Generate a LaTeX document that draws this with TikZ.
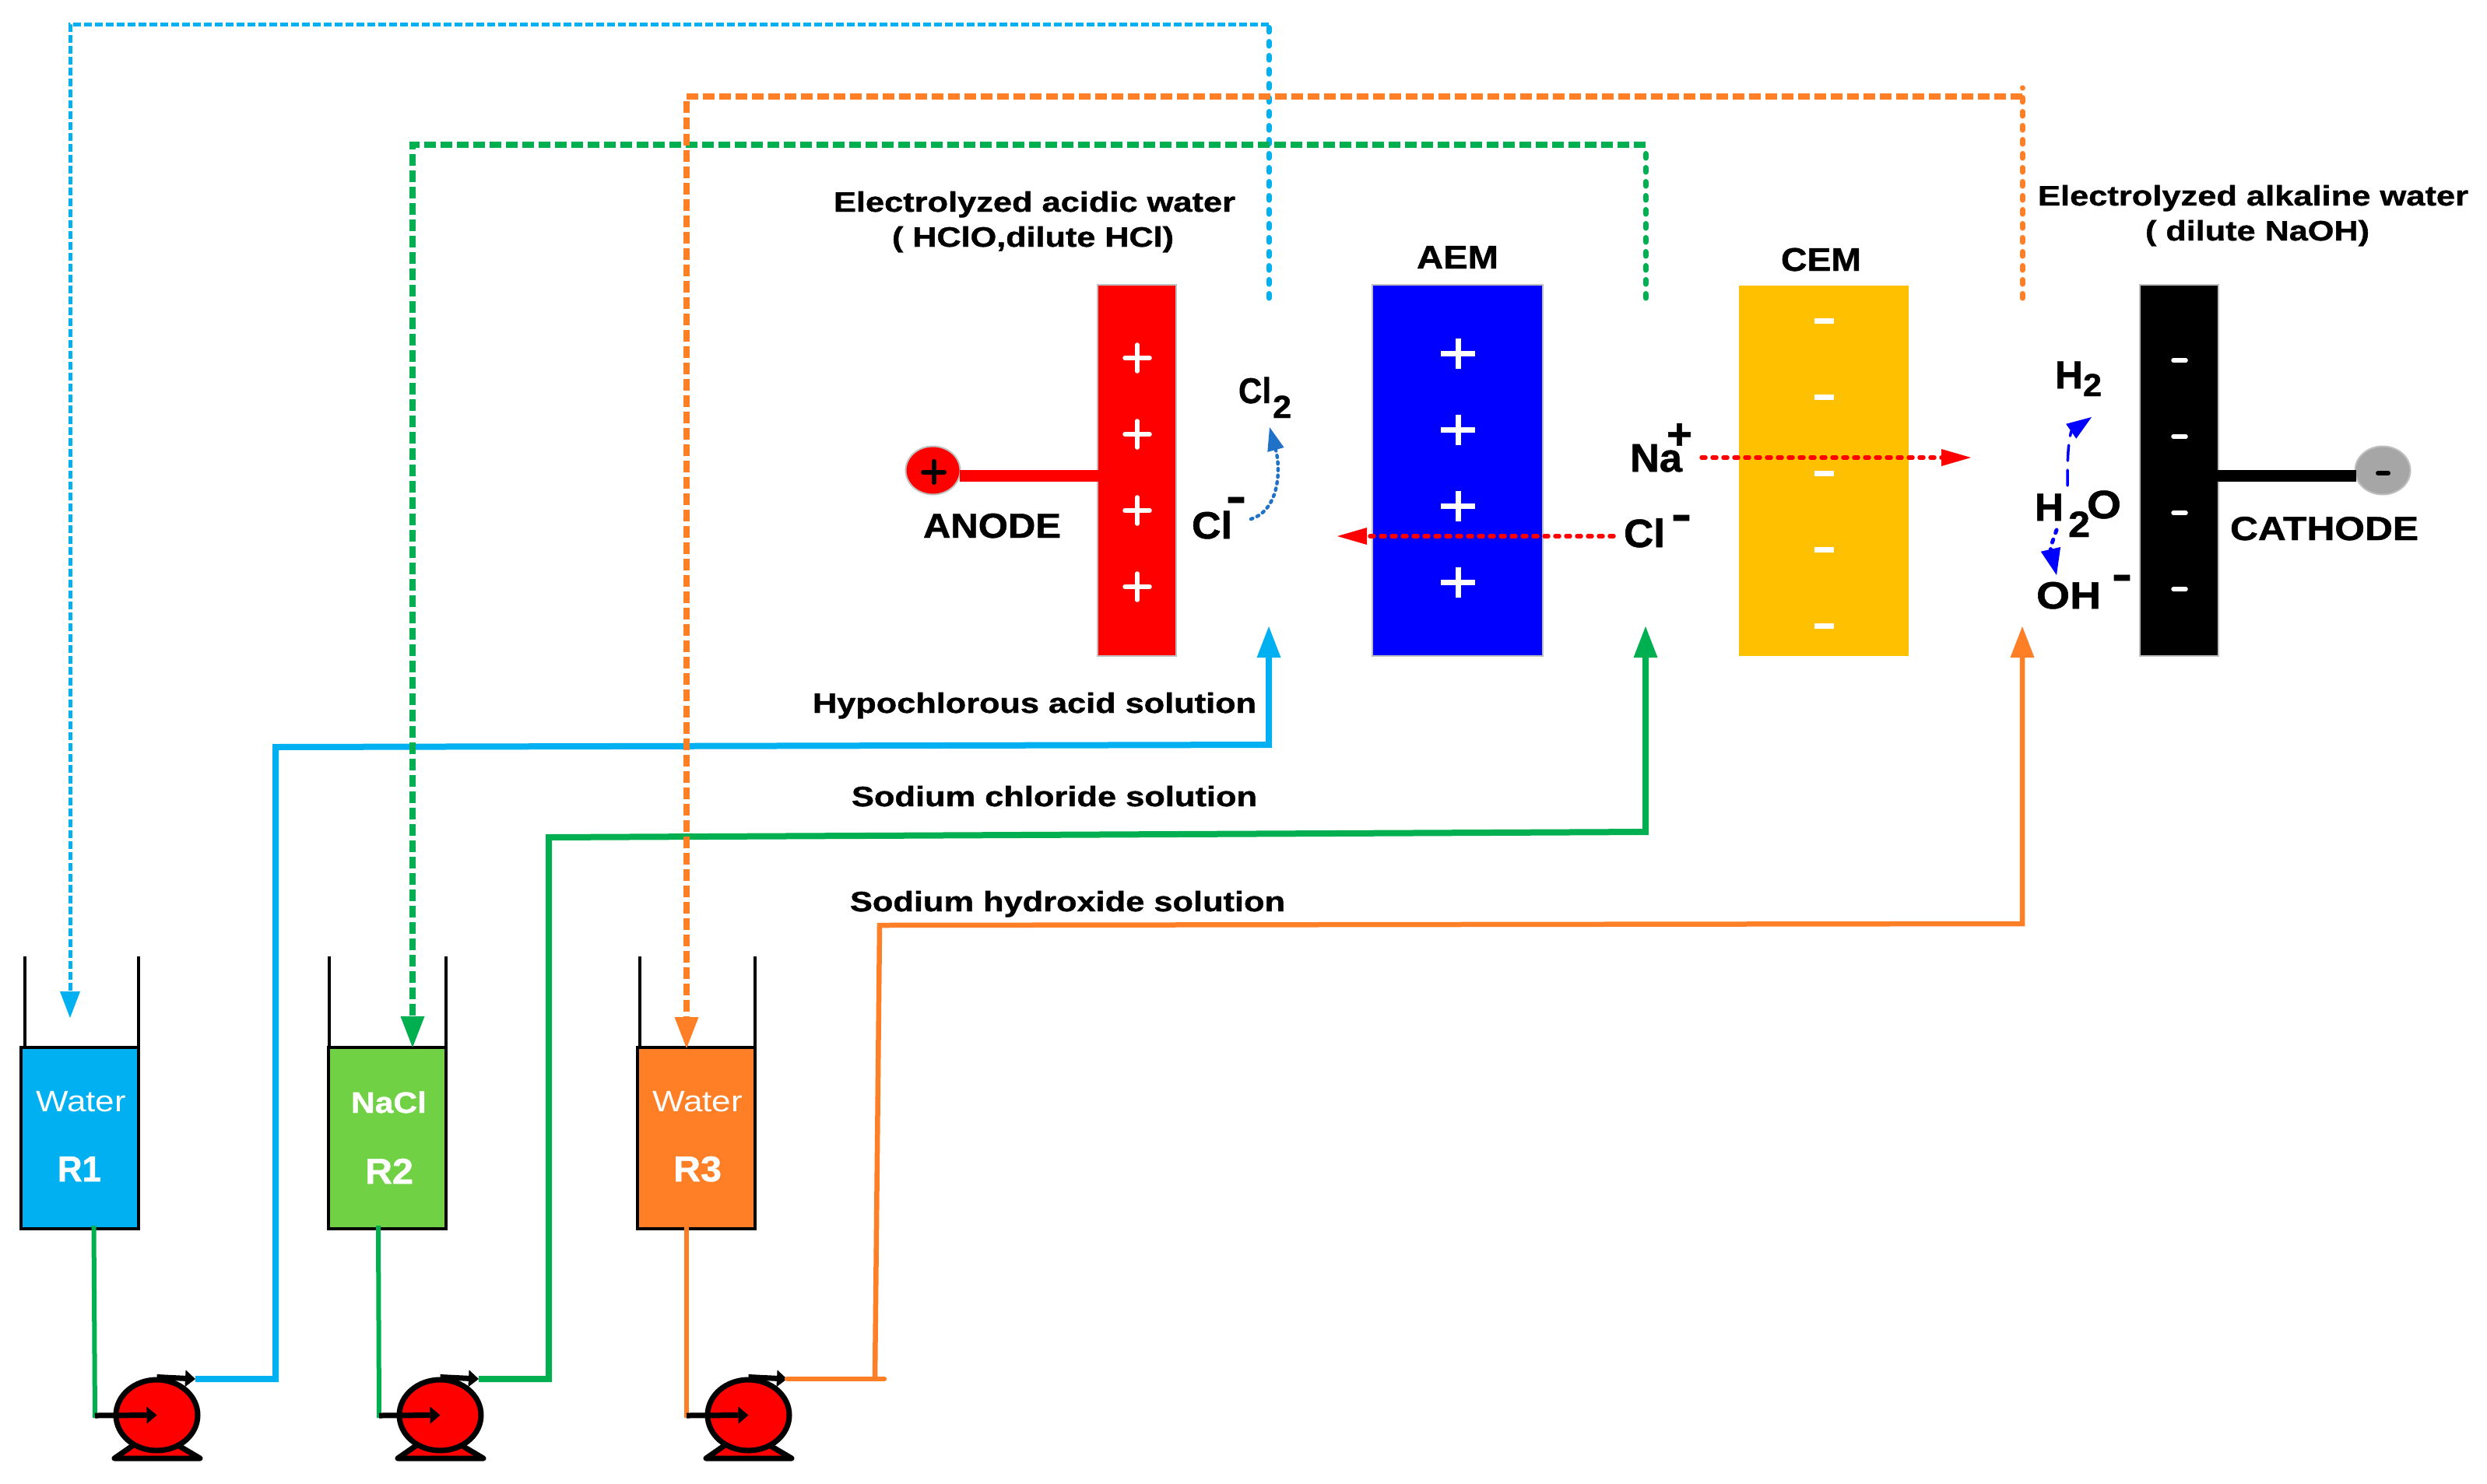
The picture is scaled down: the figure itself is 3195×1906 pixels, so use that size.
\documentclass[tikz,border=0pt]{standalone}
\usepackage{fontspec}
\usepackage{graphicx}
\setmainfont{Liberation Sans}[BoldFeatures={FakeBold=1}]
\usetikzlibrary{arrows.meta,shapes.geometric}
\newlength\px \setlength\px{0.25mm}
\definecolor{cblue}{HTML}{00B0F0}
\definecolor{cgreen}{HTML}{00B050}
\definecolor{clime}{HTML}{6FD143}
\definecolor{corange}{HTML}{FF7F27}
\definecolor{cgold}{HTML}{FFC000}
\definecolor{cedge}{HTML}{BFBFBF}
\definecolor{cgrey}{HTML}{A6A6A6}
\definecolor{carc}{HTML}{2072C8}
\newsavebox\labbox
% [colour]{name}{x}{baseline y}{width px}{size px}{text}
\newcommand\lab[7][black]{%
  \node[inner sep=0,outer sep=0,anchor=base west,text=#1] (#2) at (#3,#4) {%
    \pgfmathsetmacro\fs{#6*0.7113}%
    \sbox\labbox{\fontsize{\fs}{\fs}\selectfont #7}%
    \pgfmathsetmacro\xs{#5*0.7113/\the\wd\labbox}%
    \scalebox{\xs}[1]{\usebox\labbox}};%
}
\tikzset{
  electrode/.style={draw=cedge,line width=2\px},
  tank/.style={draw=black,line width=4\px,rectangle,inner sep=0,minimum width=151\px,minimum height=233\px},
  wall/.style={draw=black,line width=3.5\px},
  sign/.style={line width=5.5\px,line cap=round,white},
  signsq/.style={line width=7\px,white},
  flow/.style={line width=8\px,line join=miter},
  flowthin/.style={line width=6.5\px,line join=miter},
  riser/.style={line width=7\px,line cap=round,dash pattern=on 5.5\px off 12.5\px},
  retthick/.style={line width=8\px,dash pattern=on 15\px off 6\px},
  retfine/.style={line width=5\px,dash pattern=on 10\px off 4\px},
  bigtip/.style={-{Triangle[length=10mm,width=7.75mm,line width=0pt]}},
  ion/.style={red,line width=5.5\px,line cap=round,dash pattern=on 5\px off 9\px,-{Triangle[length=9.5mm,width=5.5mm,line width=0pt]}},
  pumpbody/.style={ellipse,draw=black,fill=red,line width=7\px,inner sep=0,minimum width=105\px,minimum height=91\px},
  pumparrow/.style={black,line width=7\px,-{Triangle[length=3.25mm,width=5.5mm,line width=0pt]}},
}
\begin{document}
\begin{tikzpicture}[x=0.25mm,y=-0.25mm]
\useasboundingbox (0,0) rectangle (3195,1906);
\fill[white] (0,0) rectangle (3195,1906);
% electrodes and membranes
\coordinate (barA) at (1300,611.5);
\node[electrode,fill=red,rectangle,inner sep=0,minimum width=101\px,minimum height=477\px] (anodeEl) at (1460.5,604.5) {};
\node[rectangle,fill=blue,draw=cedge,line width=2\px,inner sep=0,minimum width=219\px,minimum height=477\px] (aem) at (1872.5,604.5) {};
\node[rectangle,fill=cgold,inner sep=0,minimum width=218\px,minimum height=476\px] (cem) at (2343,605) {};
\node[electrode,fill=black,rectangle,inner sep=0,minimum width=101\px,minimum height=477\px] (cathodeEl) at (2799.5,604.5) {};
\node[ellipse,electrode,fill=red,inner sep=0,minimum width=70\px,minimum height=62\px] (anodeTerm) at (1198.5,604.5) {};
\node[ellipse,electrode,fill=cgrey,inner sep=0,minimum width=71\px,minimum height=62\px] (cathodeTerm) at (3061,604.5) {};
\draw[red,line width=15\px] ([xshift=-2\px]anodeTerm.east |- barA) -- ([xshift=3\px]anodeEl.west |- barA);
\draw[black,line width=15\px] ([xshift=-3\px]cathodeEl.east |- barA) -- ([xshift=2\px]cathodeTerm.west |- barA);
% signs
\foreach \y in {460,558,656,754} {\draw[sign] (1445,\y) -- (1477,\y); \draw[sign] (1461,\y-17) -- (1461,\y+17);}
\foreach \y in {454,552,650,748} {\draw[signsq] (1851,\y) -- (1895,\y); \draw[signsq] (1873,\y-19.5) -- (1873,\y+19.5);}
\foreach \y in {412,510,608,706,804} {\draw[signsq] (2331,\y) -- (2356,\y);}
\foreach \y in {463,561,659,757} {\draw[line width=5.5\px,line cap=round,white] (2792,\y) -- (2808,\y);}
\draw[black,line width=6\px,line cap=round] (1186,606.5) -- (1213,606.5);
\draw[black,line width=6\px,line cap=round] (1199.5,593) -- (1199.5,620);
\draw[black,line width=6\px,line cap=round] (3055,608) -- (3068,608);
% tanks
\foreach \xb/\wl in {178/32,573/423,970/822} {
  \draw[wall] (\wl,1229) -- (\wl,1346);
  \draw[wall] (\xb,1229) -- (\xb,1346);
}
\node[tank,fill=cblue] (tankA) at (102.5,1462.5) {};
\node[tank,fill=clime] (tankB) at (497.5,1462.5) {};
\node[tank,fill=corange] (tankC) at (894.5,1462.5) {};
% pumps
\foreach \n/\dx in {1/0,2/364,3/760} {
  \fill[red] (147+\dx,1874) -- (170+\dx,1858) -- (230+\dx,1858) -- (257+\dx,1874) -- cycle;
  \draw[black,line width=7\px,line join=round,line cap=round] (170+\dx,1858) -- (147+\dx,1874) -- (257+\dx,1874) -- (230+\dx,1858);
  \node[pumpbody] (pump\n) at (201.5+\dx,1818.5) {};
  \coordinate (pout\n) at (251+\dx,1772);
}
\coordinate (pin1) at (122,1819);
\coordinate (pin2) at (487,1819);
\coordinate (pin3) at (882,1819);
% inlet pipes
\draw[cgreen,line width=6\px] (120.5,1575) -- (122,1822);
\draw[cgreen,line width=6\px] (486,1575) -- (487,1822);
\draw[corange,line width=6\px] (882,1577) -- (882,1822);
\foreach \n in {1,2,3} {
  \draw[pumparrow] (pin\n) -- (pump\n.center);
  \draw[pumparrow] (pump\n.north) -- (pout\n);
}
% feed lines
\coordinate (feedA) at (1630,805);
\coordinate (feedB) at (2114,805);
\coordinate (feedC) at (2598,805);
\draw[cblue,flow,bigtip] (pout1) -- (354,1772) -- (354,960) -- (1630,957) -- (feedA);
\draw[cgreen,flow,bigtip] (pout2) -- (705,1772) -- (705,1076) -- (2114,1069) -- (feedB);
\draw[corange,flowthin,line cap=round] (pout3) -- (1136,1772);
\draw[corange,flowthin,bigtip] (1124,1772) -- (1130,1189) -- (2598,1187) -- (feedC);
% return lines
\coordinate (retA) at (1630,383);
\coordinate (retB) at (2114,383);
\coordinate (retC) at (2598,383);
\coordinate (turnA) at (1630,31);
\coordinate (turnB) at (2114,186);
\coordinate (turnC) at (2598,124);
\coordinate (dropA) at (90,1308);
\coordinate (dropB) at (530,1346);
\coordinate (dropC) at (882,1347);
\draw[cblue,riser] (retA) -- (turnA);
\draw[cgreen,riser] (retB) -- (turnB);
\draw[corange,riser] (retC) -- (2598,113);
\draw[cblue,retfine,-{Triangle[length=8.5mm,width=6.5mm,line width=0pt]}] (turnA) -- (90,31) -- (dropA);
\draw[cgreen,retthick,bigtip] (turnB) -- (530,186) -- (dropB);
\draw[corange,retthick,bigtip] (turnC) -- (882,124) -- (dropC);
% ion arrows
\coordinate (clA) at (2073,689); \coordinate (clB) at (1718,689);
\coordinate (naA) at (2186,588); \coordinate (naB) at (2532,588);
\draw[ion] (clA) -- (clB);
\draw[ion] (naA) -- (naB);
\coordinate (arcA) at (1607,667); \coordinate (arcB) at (1631,549);
\draw[carc,line width=4.5\px,line cap=round,dash pattern=on 2.5\px off 6\px,-{Triangle[length=7.5mm,width=5.5mm,line width=0pt]}] (arcA) .. controls (1645,655) and (1645,600) .. (arcB);
\coordinate (wA) at (2656,624); \coordinate (wB) at (2687,536);
\draw[blue,line width=3.5\px,line cap=round,dash pattern=on 20\px off 12\px,-{Triangle[length=8mm,width=5.75mm,line width=0pt]}] (wA) .. controls (2656,600) and (2656,570) .. (2661,554) -- (wB);
\coordinate (wC) at (2642,681); \coordinate (wD) at (2642,739);
\draw[blue,line width=5\px,line cap=round,dash pattern=on 4\px off 9\px,-{Triangle[length=8.5mm,width=6.5mm,line width=0pt]}] (wC) -- (2634,704) -- (wD);
% labels
\lab{tA}{1071}{272}{516}{36}{\bfseries Electrolyzed acidic water}
\lab{tB}{1146}{317}{362}{36}{\bfseries ( HClO,dilute HCl)}
\lab{tC}{2618}{264}{553}{36}{\bfseries Electrolyzed alkaline water}
\lab{tD}{2756}{309}{288}{36}{\bfseries ( dilute NaOH)}
\lab{tAEM}{1820}{345}{105}{42}{\bfseries AEM}
\lab{tCEM}{2288}{348}{103}{42}{\bfseries CEM}
\lab{tAN}{1186}{691}{177}{44.7}{\bfseries ANODE}
\lab{tCA}{2865}{694}{242}{43}{\bfseries CATHODE}
\lab{tCl}{1531}{692}{52}{49}{\bfseries Cl}
\lab{tClm}{1575}{658}{26}{60}{\bfseries -}
\lab{tClt}{1591}{518}{42}{46}{\bfseries Cl}
\lab{tCltw}{1635}{537}{24}{41}{\bfseries 2}
\lab{tNa}{2094}{606}{67}{51}{\bfseries Na}
\lab{tNap}{2141}{577}{33}{56}{\bfseries +}
\lab{tClr}{2086}{703}{53}{51}{\bfseries Cl}
\lab{tClrm}{2147}{681}{26}{60}{\bfseries -}
\lab{tH}{2640}{499}{36}{50}{\bfseries H}
\lab{tHtw}{2676}{509}{24}{41}{\bfseries 2}
\lab{tW}{2614}{669}{37}{50}{\bfseries H}
\lab{tWtw}{2657}{690}{28}{47}{\bfseries 2}
\lab{tWo}{2681}{666}{44}{51}{\bfseries O}
\lab{tOH}{2616}{782}{83}{49}{\bfseries OH}
\lab{tOHm}{2713}{758}{26}{60}{\bfseries -}
\lab{tHy}{1044}{916}{570}{36}{\bfseries Hypochlorous acid solution}
\lab{tSo}{1094}{1036}{521}{36}{\bfseries Sodium chloride solution}
\lab{tSh}{1092}{1171}{559}{36}{\bfseries Sodium hydroxide solution}
\lab[white]{w1}{46}{1428}{116}{38}{Water}
\lab[white]{r1}{74}{1518}{56}{46}{\bfseries R1}
\lab[white]{w2}{451}{1430}{97}{38}{\bfseries NaCl}
\lab[white]{r2}{469}{1521}{62}{46}{\bfseries R2}
\lab[white]{w3}{838}{1428}{116}{38}{Water}
\lab[white]{r3}{865}{1518}{62}{46}{\bfseries R3}
\end{tikzpicture}
\end{document}
